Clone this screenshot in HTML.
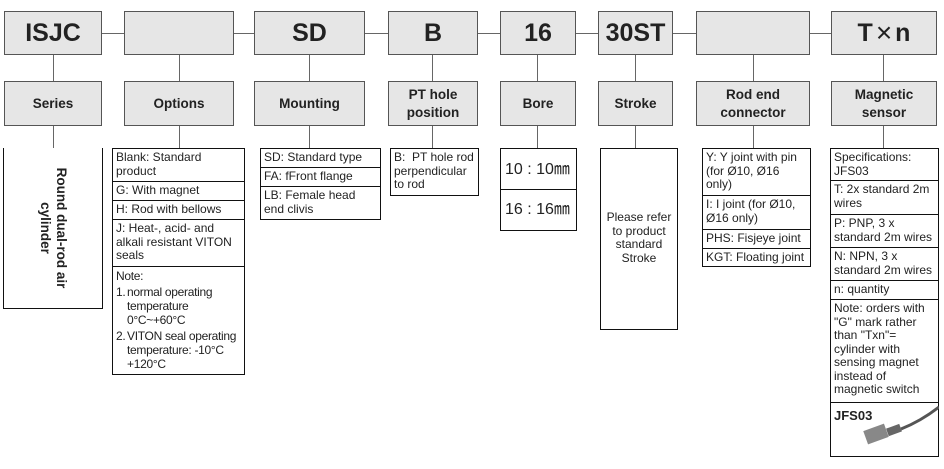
<!DOCTYPE html>
<html><head><meta charset="utf-8"><style>
body{margin:0;width:944px;height:469px;background:#fff;position:relative;font-family:"Liberation Sans",Arial,sans-serif;overflow:hidden}
.a{position:absolute;box-sizing:border-box}
.top{background:#e6e6e6;border:1px solid #555;font-weight:bold;font-size:25px;color:#222;display:flex;align-items:center;justify-content:center;top:11px;height:44px}
.lab{background:#e6e6e6;border:1px solid #555;font-weight:bold;font-size:13.5px;color:#222;display:flex;align-items:center;justify-content:center;text-align:center;top:81px;height:45px;line-height:18px}
.ln{background:#666}
.d{border:1.5px solid #111;font-size:12px;line-height:13.5px;color:#222}
.d div{border-bottom:1.5px solid #111;padding:2px 3px 1px 3px;box-sizing:border-box}
.d div:last-child{border-bottom:none}
</style></head><body>
<div class="a ln" style="left:102px;top:33px;width:729px;height:1px"></div>
<div class="a top" style="left:4px;width:98px">ISJC</div>
<div class="a top" style="left:124px;width:110px"></div>
<div class="a top" style="left:254px;width:111px">SD</div>
<div class="a top" style="left:388px;width:90px">B</div>
<div class="a top" style="left:500px;width:76px">16</div>
<div class="a top" style="left:598px;width:75px">30ST</div>
<div class="a top" style="left:696px;width:114px"></div>
<div class="a top" style="left:831px;width:106px">T<span style="font-weight:normal;font-size:28px;margin:0 3px">×</span>n</div>
<div class="a ln" style="left:53px;top:55px;width:1px;height:93px"></div>
<div class="a ln" style="left:179px;top:55px;width:1px;height:93px"></div>
<div class="a ln" style="left:309px;top:55px;width:1px;height:93px"></div>
<div class="a ln" style="left:432px;top:55px;width:1px;height:93px"></div>
<div class="a ln" style="left:537px;top:55px;width:1px;height:93px"></div>
<div class="a ln" style="left:635px;top:55px;width:1px;height:93px"></div>
<div class="a ln" style="left:753px;top:55px;width:1px;height:93px"></div>
<div class="a ln" style="left:883px;top:55px;width:1px;height:93px"></div>
<div class="a lab" style="left:4px;width:98px">Series</div>
<div class="a lab" style="left:124px;width:110px">Options</div>
<div class="a lab" style="left:254px;width:111px">Mounting</div>
<div class="a lab" style="left:388px;width:90px">PT hole<br>position</div>
<div class="a lab" style="left:500px;width:76px">Bore</div>
<div class="a lab" style="left:598px;width:75px">Stroke</div>
<div class="a lab" style="left:696px;width:114px">Rod end<br>connector</div>
<div class="a lab" style="left:831px;width:106px">Magnetic<br>sensor</div>
<div class="a" style="left:3px;top:148px;width:100px;height:161px;border:1.5px solid #111;border-top:none"></div>
<div class="a" style="left:53px;top:228px;width:0;height:0">
 <div style="position:absolute;left:-80px;top:-16px;width:160px;transform:rotate(90deg);text-align:center;font-weight:bold;font-size:13.5px;line-height:16px;color:#222">Round dual-rod air cylinder</div>
</div>
<div class="a d" style="left:112px;top:148px;width:133px;height:227px">
<div style="height:33px">Blank: Standard product</div>
<div style="height:19px">G: With magnet</div>
<div style="height:19px">H: Rod with bellows</div>
<div style="height:47px">J: Heat-, acid- and alkali resistant VITON seals</div>
<div style="line-height:14px;letter-spacing:-0.3px">Note:<br>
<div style="border:none;padding:2px 0 0 0;display:flex"><span style="width:11px">1.</span><span style="flex:1">normal operating temperature 0°C~+60°C</span></div>
<div style="border:none;padding:2px 0 0 0;display:flex;white-space:nowrap"><span style="width:11px">2.</span><span style="flex:1">VITON seal operating<br>temperature: -10°C<br>+120°C</span></div>
</div>
</div>
<div class="a d" style="left:260px;top:148px;width:121px;height:72px">
<div style="height:19px">SD: Standard type</div>
<div style="height:19px">FA: fFront flange</div>
<div>LB: Female head end clivis</div>
</div>
<div class="a d" style="left:390px;top:148px;width:89px;height:48px">
<div>B:&nbsp; PT hole rod perpendicular to rod</div>
</div>
<div class="a d" style="left:500px;top:148px;width:77px;height:83px;font-size:16px">
<div style="height:41px;display:flex;align-items:center;padding-left:4px">10 : 10㎜</div>
<div style="height:39px;display:flex;align-items:center;padding-left:4px">16 : 16㎜</div>
</div>
<div class="a d" style="left:600px;top:148px;width:78px;height:182px">
<div style="padding-top:62px;text-align:center">Please refer to product standard Stroke</div>
</div>
<div class="a d" style="left:702px;top:148px;width:109px;height:119px">
<div style="height:47px">Y: Y joint with pin (for Ø10, Ø16 only)</div>
<div style="height:34px">I: I joint (for Ø10, Ø16 only)</div>
<div style="height:19px">PHS: Fisjeye joint</div>
<div>KGT: Floating joint</div>
</div>
<div class="a d" style="left:830px;top:148px;width:109px;height:309px">
<div style="height:32px">Specifications: JFS03</div>
<div style="height:34px">T: 2x standard 2m wires</div>
<div style="height:33px">P: PNP, 3 x standard 2m wires</div>
<div style="height:33px">N: NPN, 3 x standard 2m wires</div>
<div style="height:19px">n: quantity</div>
<div style="height:103px">Note: orders with "G" mark rather than "Txn"= cylinder with sensing magnet instead of magnetic switch</div>
<div style="position:relative;height:53px;font-weight:bold;font-size:13px;padding-top:6px">JFS03
<svg style="position:absolute;left:0;top:0" width="108" height="53"><path d="M70 26 Q90 18 108 4" stroke="#555" stroke-width="3" fill="none"/><rect x="34" y="24" width="22" height="14" fill="#888" transform="rotate(-20 45 31)"/><rect x="56" y="23" width="14" height="8" fill="#666" transform="rotate(-20 63 27)"/></svg>
</div>
</div>
</body></html>
